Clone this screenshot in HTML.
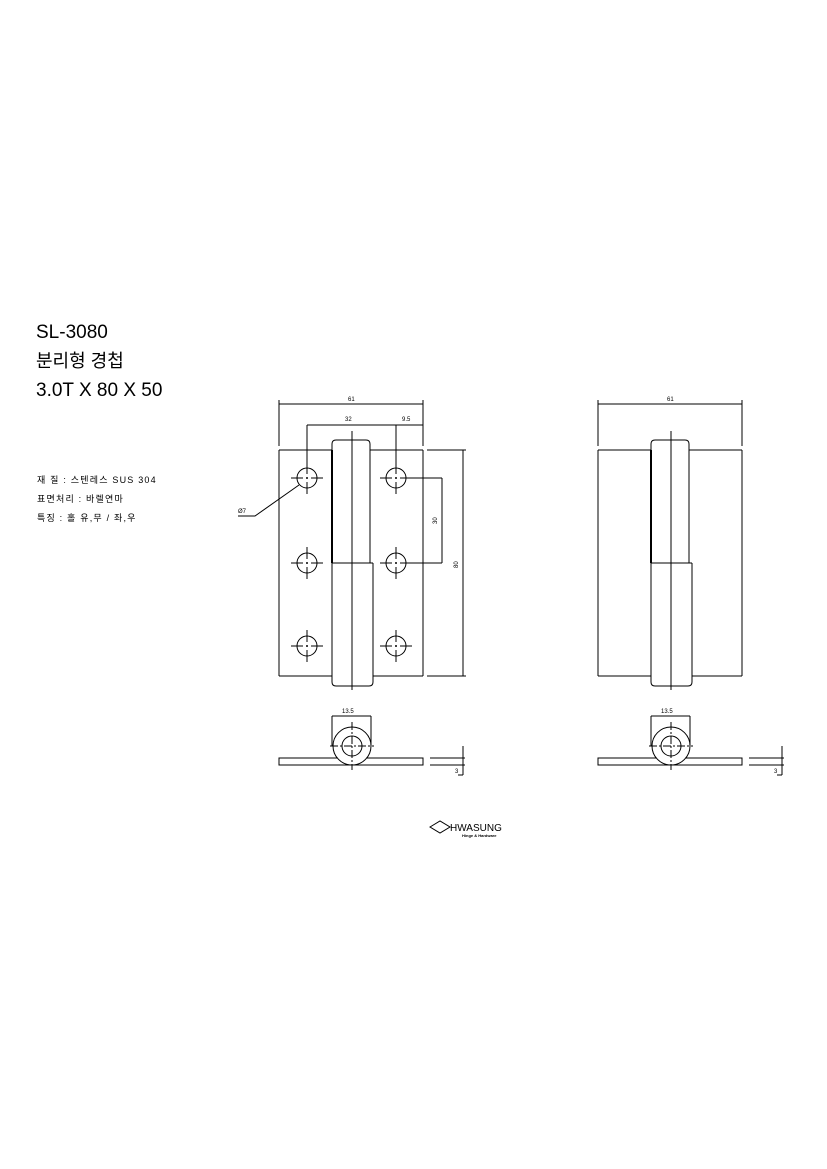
<!DOCTYPE html>
<html><head><meta charset="utf-8"><style>
html,body{margin:0;padding:0;background:#fff}
svg{display:block}
text{font-family:"Liberation Sans","Noto Sans CJK KR",sans-serif;fill:#000}
</style></head><body>
<svg width="827" height="1169" viewBox="0 0 827 1169" xmlns="http://www.w3.org/2000/svg">
<g>
<text x="36" y="338" font-size="19">SL-3080</text>
<text x="36" y="367" font-size="18">분리형 경첩</text>
<text x="36" y="396" font-size="19">3.0T X 80 X 50</text>
<text x="37" y="483" font-size="9" letter-spacing="1.2">재 질 : 스텐레스 SUS 304</text>
<text x="37" y="502" font-size="9" letter-spacing="1.2">표면처리 : 바렐연마</text>
<text x="37" y="521" font-size="9" letter-spacing="1.2">특징 : 홀 유,무 / 좌,우</text>
</g>

<defs>
<g id="hole" stroke="#000" stroke-width="1" fill="none">
<circle r="10"/>
<line x1="-16" y1="0" x2="-4" y2="0"/><line x1="4" y1="0" x2="16" y2="0"/>
<line x1="0" y1="-16" x2="0" y2="-4"/><line x1="0" y1="4" x2="0" y2="16"/>
<line x1="-1" y1="0" x2="1" y2="0"/><line x1="0" y1="-1" x2="0" y2="1"/>
</g>
<g id="hinge" stroke="#000" stroke-width="1" fill="none">
<line x1="279" y1="450" x2="332" y2="450"/>
<line x1="279" y1="450" x2="279" y2="676"/>
<line x1="279" y1="676" x2="332" y2="676"/>
<line x1="370" y1="450" x2="423" y2="450"/>
<line x1="423" y1="450" x2="423" y2="676"/>
<line x1="373" y1="676" x2="423" y2="676"/>
<line x1="373" y1="563" x2="373" y2="676"/>
<line x1="332" y1="450" x2="332" y2="563" stroke-width="2"/>
<line x1="332" y1="563" x2="373" y2="563"/>
<line x1="370" y1="450" x2="370" y2="563"/>
<line x1="332" y1="563" x2="332" y2="676"/>
<path d="M332 450 V444 Q332 440 336 440 H366 Q370 440 370 444 V450"/>
<path d="M332 676 V682 Q332 686 336 686 H369 Q373 686 373 682 V676"/>
<line x1="352" y1="431" x2="352" y2="690"/>
<!-- 61 dim -->
<line x1="279" y1="404" x2="423" y2="404"/>
<line x1="279" y1="400" x2="279" y2="446"/>
<line x1="423" y1="400" x2="423" y2="446"/>
<text x="348" y="401" font-size="6" stroke="none">61</text>
<!-- side view -->
<rect x="279" y="758" width="144" height="7"/>
<circle cx="352" cy="746" r="19" fill="#fff"/>
<circle cx="352" cy="746" r="10"/>
<line x1="330" y1="746" x2="374" y2="746" stroke-dasharray="8,2,2,2"/>
<line x1="352" y1="722" x2="352" y2="770" stroke-dasharray="8,2,2,2"/>
<line x1="332" y1="716" x2="371" y2="716"/>
<line x1="332" y1="716" x2="332" y2="746"/>
<line x1="371" y1="716" x2="371" y2="746"/>
<text x="342" y="713" font-size="6" stroke="none">13.5</text>
<line x1="430" y1="758" x2="465" y2="758"/>
<line x1="430" y1="765" x2="465" y2="765"/>
<line x1="463" y1="746" x2="463" y2="775"/>
<line x1="458" y1="775" x2="463" y2="775"/>
<text x="455" y="773" font-size="6" stroke="none">3</text>
</g>
</defs>

<use href="#hinge"/>
<use href="#hinge" transform="translate(319,0)"/>

<g stroke="#000" stroke-width="1" fill="none">
<use href="#hole" x="307" y="478"/>
<use href="#hole" x="307" y="563"/>
<use href="#hole" x="307" y="646"/>
<use href="#hole" x="396" y="478"/>
<use href="#hole" x="396" y="563"/>
<use href="#hole" x="396" y="646"/>
<line x1="307" y1="425" x2="423" y2="425"/>
<line x1="307" y1="425" x2="307" y2="466"/>
<line x1="396" y1="425" x2="396" y2="466"/>
<line x1="427" y1="450" x2="466" y2="450"/>
<line x1="427" y1="676" x2="466" y2="676"/>
<line x1="463" y1="450" x2="463" y2="676"/>
<line x1="406" y1="478" x2="442" y2="478"/>
<line x1="406" y1="563" x2="442" y2="563"/>
<line x1="442" y1="478" x2="442" y2="563"/>
<polyline points="299,485 255,516 238,516"/>
<polygon points="430,827 440,821 450,827 440,833"/>
</g>
<g stroke="none">
<text x="345" y="421" font-size="6">32</text>
<text x="402" y="421" font-size="6">9.5</text>
<text x="238" y="513" font-size="6">Ø7</text>
<text transform="translate(437,524) rotate(-90)" font-size="6">30</text>
<text transform="translate(458,568) rotate(-90)" font-size="6">80</text>
<text x="450" y="831" font-size="10">HWASUNG</text>
<text x="462" y="837" font-size="4" font-weight="bold">Hinge &amp; Hardware</text>
</g>
</svg>
</body></html>
